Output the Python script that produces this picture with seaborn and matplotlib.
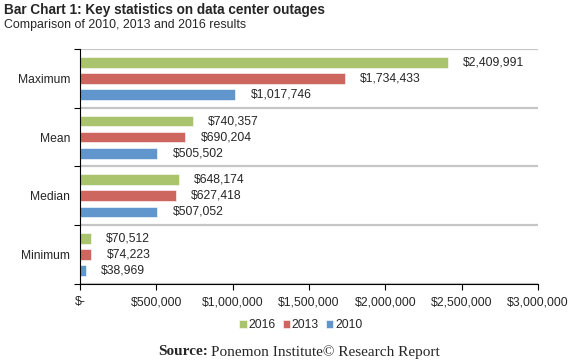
import pandas as pd
import matplotlib
matplotlib.use("Agg")
import matplotlib.pyplot as plt
import seaborn as sns
from matplotlib.ticker import FuncFormatter, FixedLocator

# Data
stats = ["Maximum", "Mean", "Median", "Minimum"]
years = ["2016", "2013", "2010"]
values_2016 = [2409991, 740357, 648174, 70512]
values_2013 = [1734433, 690204, 627418, 74223]
values_2010 = [1017746, 505502, 507052, 38969]
x_ticks = [0, 500000, 1000000, 1500000, 2000000, 2500000, 3000000]

df = pd.DataFrame({
    "Statistic": stats * 3,
    "Year": [y for y in years for _ in stats],
    "Cost": values_2016 + values_2013 + values_2010,
})

sns.set_style("white")
plt.rcParams["font.family"] = ["Liberation Sans", "DejaVu Sans"]

palette = {"2016": "#A9C46C", "2013": "#CE6660", "2010": "#6096CC"}

fig = plt.figure(figsize=(5.82, 3.64), dpi=100)
ax = fig.add_axes([0.1375, 0.2198, 0.787, 0.6456])

sns.barplot(data=df, y="Statistic", x="Cost", hue="Year", order=stats,
            hue_order=years, palette=palette, saturation=1, orient="h",
            width=0.82, gap=0.33, edgecolor="white", linewidth=0.4, ax=ax,
            legend=True)

# value labels
for container in ax.containers:
    ax.bar_label(container, labels=[f"${v:,.0f}" for v in container.datavalues],
                 padding=11, fontsize=8.7)

ax.set_xlim(0, 3000000)
ax.set_ylim(len(stats) - 0.5, -0.5)
ax.xaxis.set_major_locator(FixedLocator(x_ticks))
ax.xaxis.set_major_formatter(FuncFormatter(lambda v, p: "$-" if v == 0 else f"${v:,.0f}"))
ax.tick_params(axis="x", direction="out", length=4, width=0.8, color="black",
               labelsize=8.8, pad=5, bottom=True)
ax.tick_params(axis="y", which="major", length=0, labelsize=8.7, pad=7)
ax.set_yticks([i + 0.5 for i in range(-1, len(stats))], minor=True)
ax.tick_params(axis="y", which="minor", direction="out", length=4, width=0.8,
               color="black", left=True)
ax.grid(True, which="minor", axis="y", color="#C6C6C6", linewidth=1.6)
ax.set_axisbelow(True)
ax.set_xlabel("")
ax.set_ylabel("")

for side in ["top", "right"]:
    ax.spines[side].set_visible(False)
for side in ["left", "bottom"]:
    ax.spines[side].set_color("black")
    ax.spines[side].set_linewidth(0.8)
    ax.spines[side].set_zorder(5)

handles, labels = ax.get_legend_handles_labels()
ax.get_legend().remove()
fig.legend(handles, labels, loc="center", bbox_to_anchor=(0.517, 0.107), ncol=3,
           frameon=False, fontsize=8.7, handlelength=0.6, handleheight=0.6,
           handletextpad=0.15, columnspacing=0.6)

fig.text(0.007, 0.972, "Bar Chart 1: Key statistics on data center outages",
         fontsize=9.8, fontweight="bold", va="center", ha="left")
fig.text(0.007, 0.932, "Comparison of 2010, 2013 and 2016 results",
         fontsize=8.9, va="center", ha="left")

fig.text(0.357, 0.033, "Source:", fontsize=11, fontweight="bold", ha="right",
         va="center", family=["Liberation Serif", "DejaVu Serif"])
fig.text(0.363, 0.033, "Ponemon Institute\u00a9 Research Report", fontsize=11,
         ha="left", va="center", family=["Liberation Serif", "DejaVu Serif"])

fig.savefig("out.png", dpi=100, facecolor="white")
